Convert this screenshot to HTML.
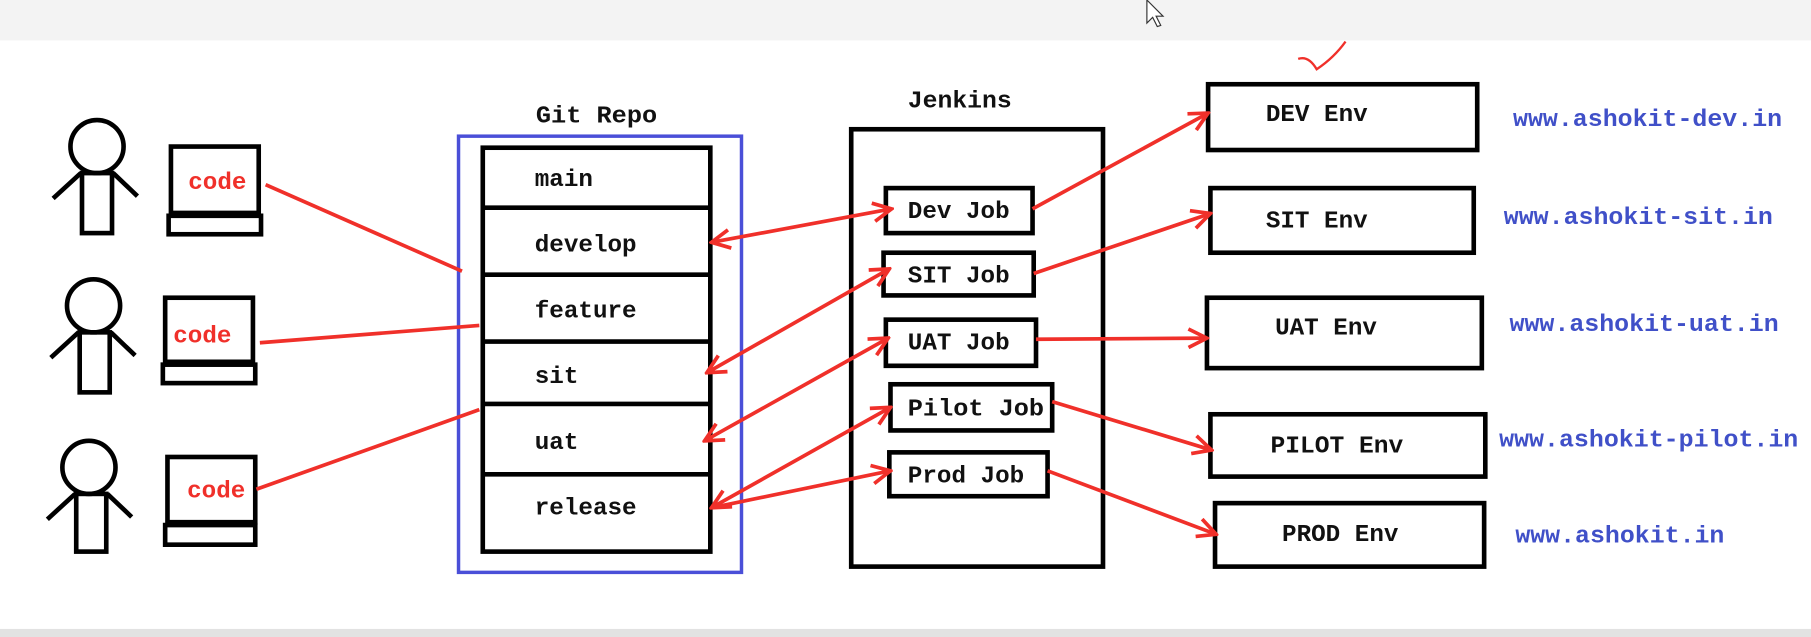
<!DOCTYPE html>
<html><head><meta charset="utf-8"><style>
html,body{margin:0;padding:0;background:#fff;}
svg{display:block;}
text{font-family:"Liberation Mono",monospace;font-weight:bold;}
</style></head><body>
<svg width="1811" height="637" viewBox="0 0 1568 552" preserveAspectRatio="none" xmlns="http://www.w3.org/2000/svg">
<defs>
<marker id="a" viewBox="0 0 20 20" refX="18" refY="10" markerWidth="20" markerHeight="20" markerUnits="userSpaceOnUse" orient="auto-start-reverse">
<path d="M2,2 L18,10 L2,18" fill="none" stroke="#f0302a" stroke-width="3.2"/>
</marker>
</defs>
<rect x="0" y="0" width="1568" height="35" fill="#f3f3f3"/>
<rect x="0" y="545" width="1568" height="7" fill="#e2e2e2"/>
<g fill="none" stroke="#000" stroke-width="4">
<circle cx="84" cy="127" r="23"/><rect x="71" y="150" width="26" height="52"/><path d="M70,150 L46,172 M98,150 L119,170"/>
<circle cx="81" cy="265" r="23"/><rect x="69" y="288" width="26" height="52"/><path d="M68,288 L44,310 M96,288 L117,308"/>
<circle cx="77" cy="405" r="23"/><rect x="66" y="428" width="26" height="50"/><path d="M65,428 L41,450 M93,428 L114,448"/>
<rect x="148" y="127" width="76" height="58"/><rect x="146" y="187" width="80" height="16"/>
<rect x="143" y="258" width="76" height="56"/><rect x="141" y="316" width="80" height="16"/>
<rect x="145" y="396" width="76" height="57"/><rect x="143" y="455" width="78" height="17"/>
<rect x="418" y="128" width="197" height="350"/>
<path d="M418,180 H615 M418,238 H615 M418,296 H615 M418,350 H615 M418,411 H615"/>
<rect x="737" y="112" width="218" height="379"/>
<rect x="767" y="163" width="127" height="39"/>
<rect x="765" y="219" width="130" height="37"/>
<rect x="767" y="277" width="130" height="40"/>
<rect x="771" y="333" width="140" height="40"/>
<rect x="770" y="392" width="137" height="38"/>
<rect x="1046" y="73" width="233" height="57"/>
<rect x="1048" y="163" width="228" height="56"/>
<rect x="1045" y="258" width="238" height="61"/>
<rect x="1048" y="359" width="238" height="54"/>
<rect x="1052" y="436" width="233" height="55"/>
</g>
<path d="M148,185 H224 M143,314 H219 M145,453 H221" stroke="#000" stroke-width="5"/>
<rect x="397" y="118" width="245" height="378" fill="none" stroke="#4a4fd8" stroke-width="3"/>
<g fill="#f0302a" font-size="21" style="font-family:'Liberation Sans',sans-serif">
<text x="163" y="164">code</text><text x="150" y="297">code</text><text x="162" y="431">code</text>
</g>
<g fill="#111" font-size="21">
<text x="464" y="106" textLength="105" lengthAdjust="spacingAndGlyphs">Git Repo</text>
<text x="786" y="93" textLength="90" lengthAdjust="spacingAndGlyphs">Jenkins</text>
<text x="463" y="161">main</text><text x="463" y="218">develop</text><text x="463" y="275">feature</text>
<text x="463" y="332">sit</text><text x="463" y="389">uat</text><text x="463" y="446">release</text>
<text x="786" y="189">Dev Job</text><text x="786" y="245">SIT Job</text><text x="786" y="303">UAT Job</text>
<text x="786" y="360" textLength="118" lengthAdjust="spacingAndGlyphs">Pilot Job</text><text x="786" y="418">Prod Job</text>
<text x="1096" y="105">DEV Env</text><text x="1096" y="197">SIT Env</text><text x="1104" y="290">UAT Env</text>
<text x="1100" y="392" textLength="115" lengthAdjust="spacingAndGlyphs">PILOT Env</text><text x="1110" y="469">PROD Env</text>
</g>
<g fill="#4050c8" font-size="21">
<text x="1310" y="109" textLength="233" lengthAdjust="spacingAndGlyphs">www.ashokit-dev.in</text>
<text x="1302" y="194" textLength="233" lengthAdjust="spacingAndGlyphs">www.ashokit-sit.in</text>
<text x="1307" y="287" textLength="233" lengthAdjust="spacingAndGlyphs">www.ashokit-uat.in</text>
<text x="1298" y="387" textLength="259" lengthAdjust="spacingAndGlyphs">www.ashokit-pilot.in</text>
<text x="1312" y="470" textLength="181" lengthAdjust="spacingAndGlyphs">www.ashokit.in</text>
</g>
<g stroke="#f0302a" stroke-width="3.2" fill="none">
<path d="M230,160 L400,235"/><path d="M225,297 L415,282"/><path d="M222,424 L415,355"/>
<path d="M616,210 L772,181" marker-start="url(#a)" marker-end="url(#a)"/>
<path d="M612,323 L770,233" marker-start="url(#a)" marker-end="url(#a)"/>
<path d="M610,382 L769,293" marker-start="url(#a)" marker-end="url(#a)"/>
<path d="M616,440 L771,353" marker-start="url(#a)" marker-end="url(#a)"/>
<path d="M616,440 L771,408" marker-end="url(#a)"/>
<path d="M894,181 L1046,98" marker-end="url(#a)"/>
<path d="M895,237 L1048,185" marker-end="url(#a)"/>
<path d="M897,294 L1045,293" marker-end="url(#a)"/>
<path d="M911,348 L1049,390" marker-end="url(#a)"/>
<path d="M907,408 L1053,463" marker-end="url(#a)"/>
<path d="M1124,51 Q1133,48 1140,60 Q1155,50 1165,36" stroke-width="2"/>
</g>
<path d="M993,0 L993,20 L998,15 L1002,23 L1005,22 L1001,14 L1007,14 Z" fill="#fff" stroke="#333" stroke-width="1"/>
</svg>
</body></html>
